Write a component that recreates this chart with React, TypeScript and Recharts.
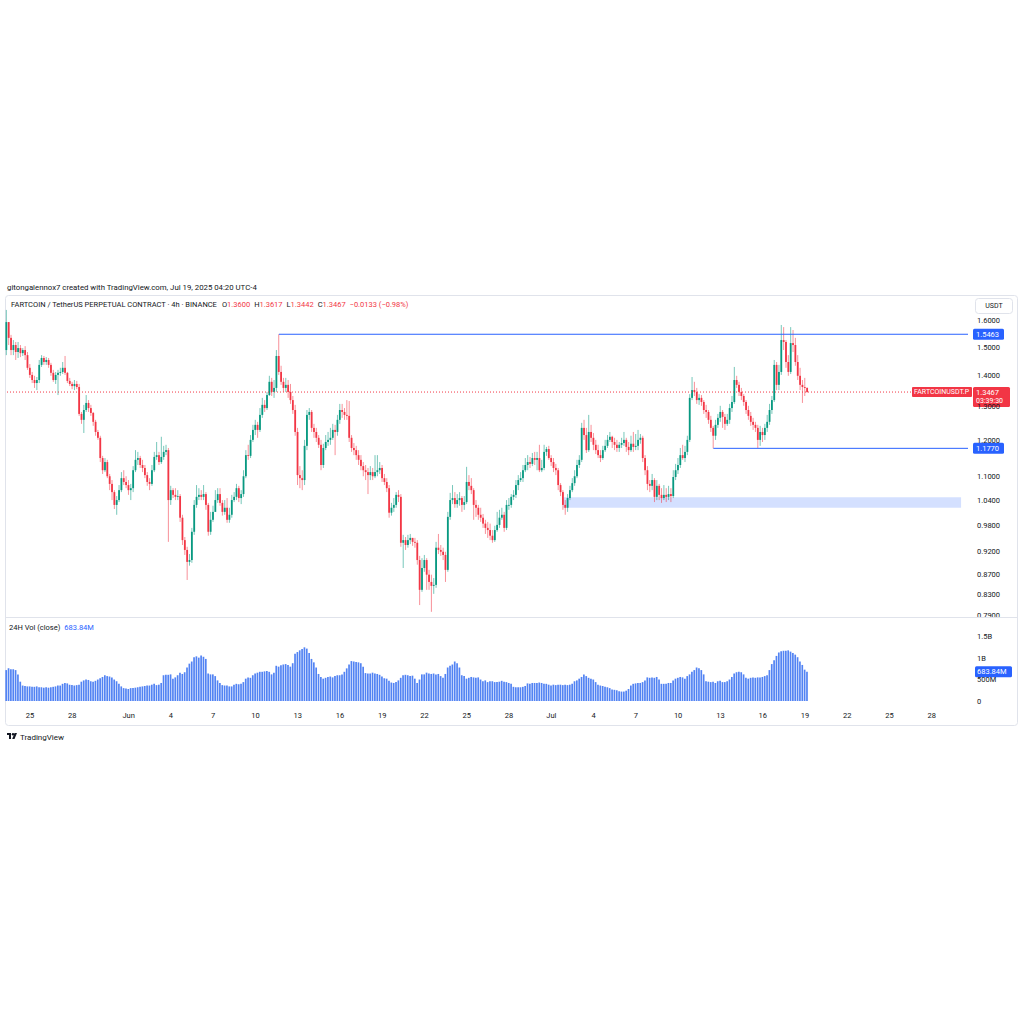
import React from 'react';
import { ComposedChart, Bar, XAxis, YAxis, ReferenceLine, ReferenceArea } from 'recharts';

// ---------- DATA (4h candles, FARTCOIN/USDT perpetual) ----------
const firstOpen = 1.489;

const closes = [
  1.592,1.533,1.489,1.507,1.482,1.496,1.478,1.489,1.471,1.427,
  1.403,1.386,1.376,1.386,1.437,1.461,1.447,1.454,1.437,1.410,
  1.386,1.403,1.410,1.413,1.427,1.410,1.383,1.373,1.366,1.373,
  1.363,1.278,1.260,1.290,1.312,1.296,1.281,1.254,1.224,1.207,
  1.150,1.117,1.139,1.101,1.081,1.060,1.028,1.040,1.065,1.096,
  1.086,1.078,1.065,1.070,1.117,1.145,1.150,1.131,1.123,1.104,
  1.086,1.081,1.117,1.153,1.158,1.139,1.153,1.167,1.172,1.040,
  1.065,1.053,1.048,1.050,0.997,0.945,0.923,0.897,0.901,0.964,
  1.028,1.048,1.053,1.048,1.055,1.028,0.964,0.992,1.011,1.040,
  1.055,1.033,1.011,1.021,0.992,1.004,1.040,1.048,1.070,1.045,
  1.055,1.101,1.158,1.156,1.201,1.230,1.245,1.230,1.275,1.306,
  1.296,1.337,1.380,1.347,1.360,1.468,1.413,1.380,1.360,1.370,
  1.347,1.321,1.290,1.224,1.104,1.096,1.091,1.184,1.275,1.284,
  1.236,1.224,1.207,1.187,1.131,1.178,1.195,1.201,1.207,1.230,
  1.224,1.260,1.290,1.284,1.275,1.272,1.207,1.178,1.172,1.158,
  1.145,1.128,1.117,1.112,1.104,1.112,1.101,1.112,1.117,1.123,
  1.096,1.086,1.070,1.009,1.021,1.028,1.053,1.048,0.939,0.945,
  0.934,0.945,0.950,0.941,0.939,0.901,0.839,0.884,0.901,0.870,
  0.855,0.847,0.849,0.928,0.923,0.919,0.912,0.880,0.999,1.040,
  1.045,1.030,1.040,1.045,1.028,1.035,1.086,1.076,1.065,1.028,
  1.021,1.004,0.997,0.983,0.973,0.968,0.955,0.945,0.968,0.980,
  0.997,1.004,0.973,1.028,1.028,1.048,1.053,1.078,1.091,1.096,
  1.117,1.131,1.139,1.134,1.150,1.145,1.150,1.117,1.123,1.167,
  1.175,1.150,1.139,1.123,1.117,1.078,1.060,1.028,1.021,1.045,
  1.065,1.083,1.101,1.131,1.145,1.236,1.215,1.172,1.224,1.207,
  1.187,1.172,1.158,1.150,1.172,1.184,1.201,1.210,1.195,1.187,
  1.178,1.187,1.192,1.201,1.181,1.172,1.190,1.181,1.184,1.201,
  1.207,1.150,1.117,1.081,1.076,1.091,1.048,1.076,1.053,1.045,
  1.053,1.048,1.055,1.050,1.099,1.117,1.131,1.158,1.150,1.167,
  1.201,1.328,1.353,1.347,1.321,1.328,1.315,1.290,1.284,1.260,
  1.236,1.213,1.245,1.266,1.284,1.269,1.248,1.260,1.296,1.315,
  1.386,1.370,1.347,1.334,1.315,1.290,1.272,1.254,1.245,1.236,
  1.201,1.224,1.215,1.236,1.254,1.290,1.321,1.437,1.370,1.413,
  1.525,1.518,1.447,1.413,1.514,1.507,1.447,1.400,1.370,1.363,
  1.360,1.3467,
];

const highs = [
  1.639,1.592,1.544,1.525,1.518,1.518,1.507,1.496,1.503,1.482,
  1.440,1.413,1.400,1.396,1.454,1.471,1.468,1.464,1.461,1.444,
  1.420,1.413,1.420,1.427,1.447,1.468,1.413,1.393,1.380,1.386,
  1.383,1.373,1.284,1.306,1.337,1.321,1.306,1.284,1.260,1.230,
  1.213,1.156,1.150,1.145,1.107,1.091,1.065,1.050,1.078,1.112,
  1.117,1.101,1.091,1.081,1.128,1.172,1.167,1.156,1.145,1.131,
  1.112,1.096,1.131,1.167,1.195,1.167,1.210,1.184,1.187,1.178,
  1.076,1.070,1.070,1.065,1.055,1.004,0.952,0.930,0.914,0.973,
  1.040,1.078,1.070,1.065,1.078,1.060,1.033,1.011,1.026,1.065,
  1.070,1.070,1.040,1.040,1.045,1.021,1.053,1.060,1.081,1.076,
  1.065,1.117,1.172,1.187,1.215,1.245,1.260,1.254,1.296,1.328,
  1.321,1.347,1.400,1.393,1.386,1.489,1.5463,1.434,1.393,1.393,
  1.386,1.373,1.334,1.306,1.236,1.128,1.117,1.201,1.290,1.296,
  1.290,1.248,1.236,1.215,1.201,1.190,1.215,1.224,1.236,1.248,
  1.245,1.275,1.309,1.309,1.296,1.321,1.318,1.215,1.192,1.184,
  1.172,1.158,1.139,1.131,1.123,1.128,1.123,1.158,1.158,1.139,
  1.131,1.107,1.096,1.078,1.033,1.045,1.060,1.065,1.055,0.957,
  0.952,0.957,0.959,0.950,0.950,0.945,0.910,0.905,0.912,0.905,
  0.880,0.870,0.863,0.941,0.959,0.934,0.928,0.919,1.011,1.058,
  1.078,1.060,1.055,1.060,1.050,1.050,1.126,1.104,1.096,1.070,
  1.040,1.028,1.021,1.006,0.992,0.987,0.983,0.968,0.978,1.011,
  1.016,1.021,1.011,1.040,1.045,1.055,1.065,1.091,1.104,1.112,
  1.131,1.150,1.158,1.153,1.164,1.167,1.167,1.187,1.145,1.187,
  1.181,1.184,1.158,1.150,1.134,1.123,1.083,1.065,1.040,1.055,
  1.076,1.096,1.117,1.145,1.158,1.251,1.260,1.236,1.275,1.245,
  1.221,1.201,1.187,1.172,1.184,1.201,1.215,1.224,1.213,1.207,
  1.201,1.195,1.207,1.224,1.207,1.195,1.213,1.224,1.218,1.230,
  1.218,1.213,1.158,1.128,1.091,1.107,1.096,1.091,1.081,1.070,
  1.078,1.070,1.076,1.070,1.117,1.134,1.150,1.178,1.187,1.184,
  1.213,1.340,1.396,1.380,1.360,1.340,1.337,1.321,1.306,1.290,
  1.272,1.242,1.260,1.278,1.303,1.290,1.278,1.278,1.309,1.334,
  1.430,1.400,1.380,1.360,1.340,1.321,1.303,1.284,1.266,1.254,
  1.245,1.242,1.236,1.248,1.275,1.309,1.334,1.454,1.447,1.437,
  1.581,1.573,1.525,1.471,1.573,1.562,1.533,1.471,1.427,1.386,
  1.393,1.3617,
];

const lows = [
  1.471,1.507,1.471,1.471,1.454,1.461,1.464,1.468,1.454,1.420,
  1.393,1.376,1.360,1.353,1.376,1.430,1.437,1.437,1.427,1.400,
  1.380,1.373,1.337,1.400,1.406,1.403,1.376,1.366,1.356,1.353,
  1.356,1.272,1.248,1.221,1.284,1.284,1.272,1.242,1.213,1.201,
  1.139,1.107,1.112,1.096,1.065,1.040,1.018,1.004,1.035,1.060,
  1.078,1.070,1.053,1.040,1.060,1.112,1.131,1.123,1.112,1.096,
  1.076,1.065,1.076,1.112,1.145,1.131,1.134,1.145,1.158,0.941,
  1.028,1.045,1.040,1.040,0.987,0.934,0.912,0.859,0.889,0.895,
  0.957,1.021,1.040,1.040,1.040,1.016,0.955,0.957,0.987,1.011,
  1.033,1.026,1.002,1.004,0.985,0.985,0.997,1.035,1.040,1.035,
  1.030,1.048,1.096,1.145,1.150,1.195,1.215,1.207,1.224,1.266,
  1.284,1.290,1.334,1.334,1.328,1.347,1.403,1.370,1.347,1.347,
  1.328,1.309,1.278,1.213,1.078,1.070,1.065,1.078,1.172,1.260,
  1.224,1.207,1.195,1.178,1.117,1.123,1.172,1.184,1.187,1.201,
  1.158,1.213,1.248,1.266,1.260,1.260,1.195,1.167,1.158,1.145,
  1.131,1.117,1.101,1.091,1.055,1.091,1.091,1.096,1.101,1.107,
  1.086,1.078,1.060,0.997,1.002,1.011,1.021,1.035,0.930,0.884,
  0.923,0.928,0.936,0.932,0.928,0.891,0.809,0.835,0.876,0.839,
  0.839,0.796,0.831,0.843,0.914,0.910,0.901,0.855,0.876,0.992,
  1.030,1.021,1.021,1.026,1.011,1.016,1.030,1.065,1.055,0.992,
  0.999,0.992,0.987,0.973,0.959,0.950,0.945,0.939,0.941,0.964,
  0.973,0.992,0.964,0.968,1.016,1.021,1.040,1.045,1.065,1.086,
  1.086,1.112,1.117,1.123,1.128,1.131,1.117,1.112,1.112,1.117,
  1.156,1.145,1.128,1.112,1.104,1.065,1.050,1.016,1.004,1.011,
  1.040,1.060,1.076,1.096,1.123,1.139,1.201,1.164,1.167,1.195,
  1.172,1.161,1.150,1.139,1.145,1.167,1.178,1.195,1.178,1.172,
  1.167,1.167,1.178,1.184,1.167,1.158,1.167,1.167,1.172,1.172,
  1.190,1.139,1.104,1.065,1.060,1.065,1.035,1.040,1.040,1.033,
  1.040,1.035,1.040,1.035,1.045,1.091,1.107,1.123,1.145,1.139,
  1.158,1.195,1.321,1.334,1.309,1.306,1.303,1.278,1.266,1.248,
  1.224,1.177,1.201,1.236,1.254,1.236,1.230,1.242,1.248,1.284,
  1.309,1.360,1.334,1.321,1.303,1.278,1.260,1.242,1.230,1.224,
  1.178,1.184,1.195,1.201,1.224,1.245,1.278,1.315,1.353,1.353,
  1.403,1.489,1.427,1.400,1.406,1.482,1.434,1.386,1.353,1.312,
  1.334,1.3442,
];

// 24H rolling volume (millions USDT), one per 4h candle
const volumes = [
  720,760,740,740,720,620,450,360,350,340,
  340,330,330,340,320,320,310,320,310,320,
  330,340,360,360,400,420,410,380,370,360,
  370,380,450,480,500,490,460,450,470,500,
  530,560,600,580,570,550,500,460,400,340,
  300,290,280,300,300,310,320,330,340,350,
  360,360,380,400,370,380,420,600,610,610,
  620,520,550,600,660,630,670,780,870,920,
  1020,1040,1010,1060,1030,980,640,620,620,580,
  480,420,370,360,360,340,340,380,400,390,
  400,440,520,550,540,600,640,660,680,680,
  690,700,680,620,660,820,800,830,850,860,
  840,800,880,1100,1140,1180,1210,1250,1220,1120,
  980,900,780,630,560,520,540,560,570,550,
  580,600,600,620,680,760,850,930,920,910,
  900,880,800,650,640,640,660,640,630,610,
  570,530,520,470,430,420,440,480,540,600,
  610,600,580,590,520,420,500,620,620,660,
  640,630,640,620,630,580,540,630,780,820,
  850,920,880,780,600,580,520,540,560,550,
  540,550,500,460,480,440,460,460,440,440,
  450,470,450,440,420,400,330,320,320,320,
  330,350,410,400,420,420,420,430,420,400,
  400,380,360,380,370,380,380,370,380,370,
  380,400,460,480,520,560,620,580,540,520,
  500,440,380,360,350,330,320,300,270,260,
  250,230,220,220,240,280,360,400,410,420,
  420,440,480,550,540,550,540,560,500,400,
  400,400,420,420,480,520,540,560,550,520,
  580,620,680,720,780,760,720,620,460,450,
  440,450,420,460,470,440,440,460,500,560,
  640,670,680,670,620,540,520,540,550,540,
  550,550,560,580,600,720,860,950,1050,1130,
  1160,1170,1170,1180,1150,1120,1080,1020,920,840,
  730,683.84,
];

// time: days since May 25 (first candle May 23 08:00, step 4h)
const firstCandleDay = -5 / 3;
const timeTickDays = [0, 3, 7, 10, 13, 16, 19, 22, 25, 28, 31, 34, 37, 40, 43, 46, 49, 52, 55, 58, 61, 64];
const timeTickLabels = ['25', '28', 'Jun', '4', '7', '10', '13', '16', '19', '22', '25', '28', 'Jul', '4', '7', '10', '13', '16', '19', '22', '25', '28'];
const priceTicks = [0.79, 0.83, 0.87, 0.92, 0.98, 1.04, 1.1, 1.2, 1.3, 1.4, 1.5, 1.6];
const volumeTicks = [0, 500, 1000, 1500];
const volumeTickLabels = ['0', '500M', '1B', '1.5B'];

const resistance = 1.5463;
const resistanceStartDay = firstCandleDay + 116 / 6;
const support = 1.177;
const supportStartDay = firstCandleDay + 301 / 6;
const zoneLow = 1.021;
const zoneHigh = 1.047;
const zoneStartDay = 37.83;
const zoneEndDay = 66.08;
const lastPrice = 1.3467;
const lastVolume = 683.84;

// ---------- LAYOUT ----------
const X_DOMAIN: [number, number] = [-1.7743, 66.572];
const PRICE_DOMAIN: [number, number] = [0.78622, 1.6945];
const VOL_DOMAIN: [number, number] = [0, 1840];
const FONT = "Roboto, 'Liberation Sans', Arial, sans-serif";
const UP = '#089981';
const DOWN = '#f23645';
const BLUE = '#2962ff';
const TXT = '#131722';

const candleData = closes.map((close, i) => {
  const open = i === 0 ? firstOpen : closes[i - 1];
  const high = Math.max(highs[i], open, close);
  const low = Math.min(lows[i], open, close);
  return { t: firstCandleDay + i / 6, open, high, low, close, range: [low, high] };
});
const volData = volumes.map((v, i) => ({ t: firstCandleDay + i / 6, v }));

const Candle = (props: any) => {
  const { x, y, width, height, payload } = props;
  if (!payload || !isFinite(y) || !isFinite(height)) return null;
  const { open, close, high, low } = payload;
  const up = close >= open;
  const color = up ? UP : DOWN;
  const yTop = Math.min(y, y + height);
  const yBot = Math.max(y, y + height);
  const lh = Math.log(high);
  const ll = Math.log(low);
  const span = lh - ll || 1;
  const py = (p: number) => yTop + (yBot - yTop) * (lh - Math.log(p)) / span;
  const cx = x + width / 2;
  const bTop = py(Math.max(open, close));
  const bBot = py(Math.min(open, close));
  return (
    <g>
      <line x1={cx} x2={cx} y1={yTop} y2={yBot} stroke={color} strokeWidth={1} strokeOpacity={0.55} />
      <rect x={cx - 0.9} y={bTop} width={1.8} height={Math.max(bBot - bTop, 0.8)} fill={color} />
    </g>
  );
};

const PriceTick = (props: any) => {
  const { x, y, payload } = props;
  return (
    <text x={x + 1} y={y} dy="0.35em" fontSize={7.5} fill={TXT} fontFamily={FONT}>
      {Number(payload.value).toFixed(4)}
    </text>
  );
};

const VolTick = (props: any) => {
  const { x, y, payload } = props;
  const idx = volumeTicks.indexOf(payload.value);
  return (
    <text x={x + 1} y={y} dy="0.35em" fontSize={7.5} fill={TXT} fontFamily={FONT}>
      {idx >= 0 ? volumeTickLabels[idx] : ''}
    </text>
  );
};

const TimeTick = (props: any) => {
  const { x, y, payload } = props;
  const idx = timeTickDays.indexOf(payload.value);
  return (
    <text x={x} y={y} dy={9} textAnchor="middle" fontSize={7.5} fill={TXT} fontFamily={FONT}>
      {idx >= 0 ? timeTickLabels[idx] : ''}
    </text>
  );
};

const BlueTag = (props: any) => {
  const { viewBox, text } = props;
  if (!viewBox) return null;
  const right = viewBox.x + viewBox.width;
  const y = viewBox.y;
  return (
    <g>
      <rect x={right + 5} y={y - 5.5} width={31} height={11} rx={1.5} fill={BLUE} />
      <text x={right + 8} y={y} dy="0.35em" fontSize={7.5} fill="#fff" fontFamily={FONT}>{text}</text>
    </g>
  );
};

const CurrentTag = (props: any) => {
  const { viewBox } = props;
  if (!viewBox) return null;
  const right = viewBox.x + viewBox.width;
  const y = viewBox.y;
  return (
    <g>
      <rect x={right - 56} y={y - 5} width={60} height={10} rx={1} fill={DOWN} />
      <text x={right - 54} y={y} dy="0.35em" fontSize={7} fill="#fff" fontFamily={FONT}>FARTCOINUSDT.P</text>
      <rect x={right + 5} y={y - 5} width={37} height={20} rx={1.5} fill={DOWN} />
      <text x={right + 8} y={y} dy="0.35em" fontSize={7.5} fill="#fff" fontFamily={FONT}>{lastPrice.toFixed(4)}</text>
      <text x={right + 8} y={y + 9} dy="0.35em" fontSize={7} fill="#fff" fontFamily={FONT}>03:39:30</text>
    </g>
  );
};

const VolTag = (props: any) => {
  const { viewBox } = props;
  if (!viewBox) return null;
  const right = viewBox.x + viewBox.width;
  const y = viewBox.y;
  return (
    <g>
      <rect x={right + 7} y={y - 5.5} width={37} height={11} rx={1.5} fill={BLUE} />
      <text x={right + 9} y={y} dy="0.35em" fontSize={7.5} fill="#fff" fontFamily={FONT}>683.84M</text>
    </g>
  );
};

export default function App() {
  return (
    <div style={{ position: 'absolute', left: 0, top: 0, width: 1024, height: 1024, background: '#fff', fontFamily: FONT }}>
      <svg width={1024} height={1024} style={{ position: 'absolute', left: 0, top: 0 }}>
        <text x={7} y={290} fontSize={7.8} fill={TXT} fontFamily={FONT}>
          gitongalennox7 created with TradingView.com, Jul 19, 2025 04:20 UTC-4
        </text>
        <rect x={5.5} y={295.5} width={1012} height={430} rx={3} fill="#fff" stroke="#e0e3eb" />
        <line x1={5.5} x2={1017.5} y1={617.5} y2={617.5} stroke="#e0e3eb" />
        <text x={11} y={306.8} fontSize={7.5} fill={TXT} fontFamily={FONT}>
          <tspan>FARTCOIN / TetherUS PERPETUAL CONTRACT · 4h · BINANCE</tspan>
          <tspan dx={5}>O</tspan><tspan fill={DOWN}>1.3600</tspan>
          <tspan dx={4}>H</tspan><tspan fill={DOWN}>1.3617</tspan>
          <tspan dx={4}>L</tspan><tspan fill={DOWN}>1.3442</tspan>
          <tspan dx={4}>C</tspan><tspan fill={DOWN}>1.3467</tspan>
          <tspan dx={4} fill={DOWN}>−0.0133 (−0.98%)</tspan>
        </text>
        <rect x={975.5} y={298.5} width={37} height={15} rx={3} fill="#fff" stroke="#e0e3eb" />
        <text x={994} y={306} dy="0.35em" textAnchor="middle" fontSize={7} fill={TXT} fontFamily={FONT}>USDT</text>
        <text x={9} y={630} fontSize={7.5} fill={TXT} fontFamily={FONT}>
          <tspan>24H Vol (close)</tspan>
          <tspan dx={4} fill={BLUE}>683.84M</tspan>
        </text>
        <g transform="translate(7,733)">
          <path d="M0 0 H4 V6 H2 V2 H0 Z" fill={TXT} />
          <circle cx={6} cy={1.2} r={1.2} fill={TXT} />
          <path d="M7.5 0 H10 L7.5 6 H5.2 Z" fill={TXT} />
        </g>
        <text x={20} y={740} fontSize={8} fill={TXT} fontFamily={FONT}>TradingView</text>
      </svg>

      <div style={{ position: 'absolute', left: 5, top: 296, width: 1013, height: 321 }}>
        <ComposedChart width={1013} height={321} data={candleData} margin={{ top: 0, right: 0, bottom: 0, left: 0 }}>
          <XAxis type="number" dataKey="t" domain={X_DOMAIN} allowDataOverflow hide />
          <YAxis
            orientation="right"
            scale="log"
            domain={PRICE_DOMAIN}
            allowDataOverflow
            ticks={priceTicks}
            width={50}
            axisLine={false}
            tickLine={false}
            tick={<PriceTick />}
            interval={0}
          />
          <ReferenceArea x1={zoneStartDay} x2={zoneEndDay} y1={zoneLow} y2={zoneHigh} fill={BLUE} fillOpacity={0.2} stroke="none" ifOverflow="visible" />
          <ReferenceLine segment={[{ x: resistanceStartDay, y: resistance }, { x: X_DOMAIN[1], y: resistance }]} stroke={BLUE} strokeWidth={1} ifOverflow="visible" />
          <ReferenceLine segment={[{ x: supportStartDay, y: support }, { x: X_DOMAIN[1], y: support }]} stroke={BLUE} strokeWidth={1} ifOverflow="visible" />
          <ReferenceLine y={lastPrice} stroke={DOWN} strokeWidth={1} strokeDasharray="1 2" />
          <Bar dataKey="range" barSize={2} shape={<Candle />} isAnimationActive={false} />
          <ReferenceLine y={resistance} stroke="none" label={<BlueTag text="1.5463" />} />
          <ReferenceLine y={support} stroke="none" label={<BlueTag text="1.1770" />} />
          <ReferenceLine y={lastPrice} stroke="none" label={<CurrentTag />} />
        </ComposedChart>
      </div>

      <div style={{ position: 'absolute', left: 5, top: 618, width: 1013, height: 107 }}>
        <ComposedChart width={1013} height={107} data={volData} margin={{ top: 4, right: 0, bottom: 0, left: 0 }}>
          <XAxis
            type="number"
            dataKey="t"
            domain={X_DOMAIN}
            allowDataOverflow
            ticks={timeTickDays}
            interval={0}
            height={24}
            axisLine={false}
            tickLine={false}
            tick={<TimeTick />}
          />
          <YAxis
            orientation="right"
            domain={VOL_DOMAIN}
            allowDataOverflow
            ticks={volumeTicks}
            interval={0}
            width={50}
            axisLine={false}
            tickLine={false}
            tick={<VolTick />}
          />
          <Bar dataKey="v" barSize={1.7} fill="#5283f3" isAnimationActive={false} />
          <ReferenceLine y={lastVolume} stroke="none" label={<VolTag />} />
        </ComposedChart>
      </div>
    </div>
  );
}
